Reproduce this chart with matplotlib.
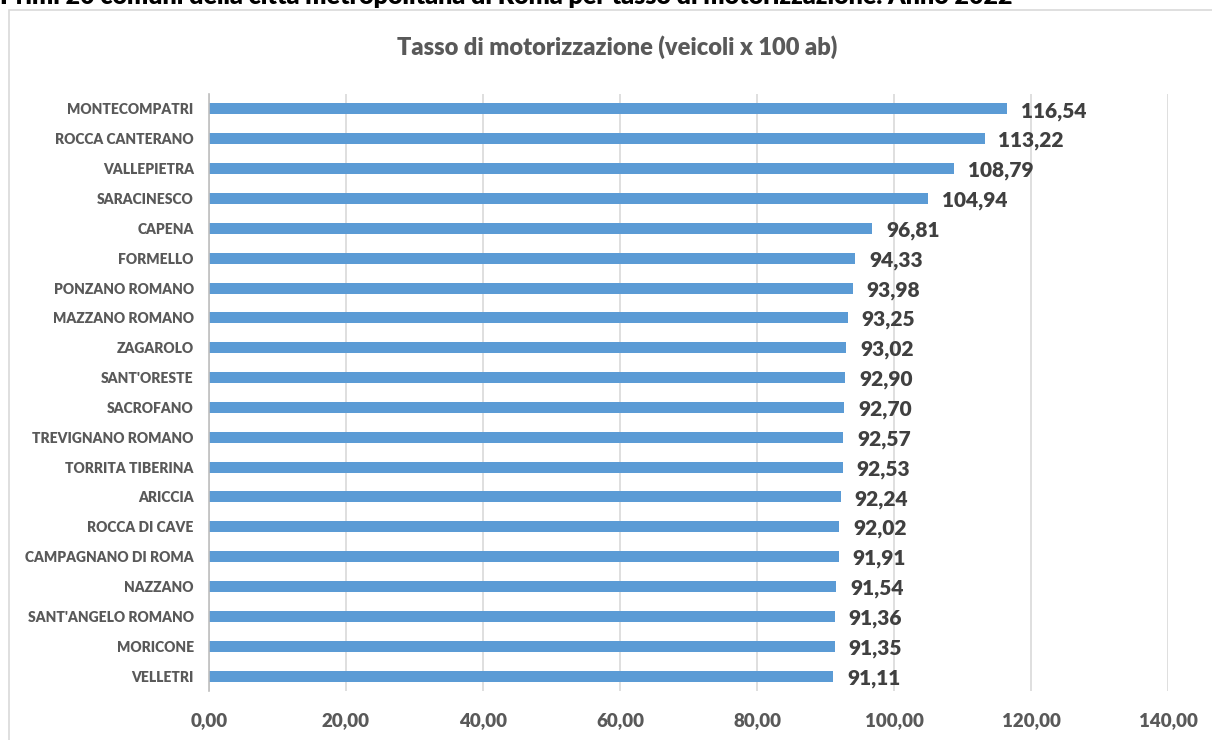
import matplotlib
matplotlib.use("Agg")
import matplotlib.pyplot as plt
from matplotlib.patches import Rectangle

plt.rcParams['font.family'] = ['Lato', 'DejaVu Sans']

comuni = ["MONTECOMPATRI", "ROCCA CANTERANO", "VALLEPIETRA", "SARACINESCO", "CAPENA",
          "FORMELLO", "PONZANO ROMANO", "MAZZANO ROMANO", "ZAGAROLO", "SANT'ORESTE",
          "SACROFANO", "TREVIGNANO ROMANO", "TORRITA TIBERINA", "ARICCIA", "ROCCA DI CAVE",
          "CAMPAGNANO DI ROMA", "NAZZANO", "SANT'ANGELO ROMANO", "MORICONE", "VELLETRI"]
tasso = [116.54, 113.22, 108.79, 104.94, 96.81, 94.33, 93.98, 93.25, 93.02, 92.90,
         92.70, 92.57, 92.53, 92.24, 92.02, 91.91, 91.54, 91.36, 91.35, 91.11]
xticks = [0, 20, 40, 60, 80, 100, 120, 140]

titolo = "Tasso di motorizzazione (veicoli x 100 ab)"
titolo_sup = "Primi 20 comuni della città metropolitana di Roma per tasso di motorizzazione. Anno 2022"

def fmt(v):
    return f"{v:.2f}".replace(".", ",")

W, H = 1212, 740
WT = "heavy"
fig = plt.figure(figsize=(W/100, H/100), dpi=100)
fig.patch.set_facecolor("white")

# chart frame
fig.patches.append(Rectangle((9/W, -0.1), 1.2, 1 - 10/H + 0.1, transform=fig.transFigure,
                             fill=False, edgecolor="#d9d9d9", linewidth=1.2))

# cut-off top title (partially outside the image, as in the reference)
fig.text(0/W, 1 - 4/H, titolo_sup, ha="left", va="baseline", fontsize=18,
         fontweight=WT, color="black")

ax = fig.add_axes([209/W, 1 - 691/H, (1168-209)/W, (691-94)/H])
ypos = list(range(len(comuni)))[::-1]
ax.barh(ypos, tasso, height=0.37, color="#5b9bd5")
ax.set_ylim(-0.5, len(comuni) - 0.5)
ax.set_xlim(0, 140)
ax.set_xticks(xticks)
ax.set_xticklabels([fmt(t) for t in xticks], fontsize=13.5, fontweight=WT, color="#595959")
ax.set_yticks(ypos)
ax.set_yticklabels(comuni, fontsize=10, fontweight=WT, color="#595959")
ax.tick_params(axis="both", length=0)
ax.tick_params(axis="y", pad=11)
ax.tick_params(axis="x", pad=15)
ax.grid(axis="x", color="#d9d9d9", linewidth=1.2)
ax.set_axisbelow(True)
for s in ["top", "right", "bottom"]:
    ax.spines[s].set_visible(False)
ax.spines["left"].set_color("#bfbfbf")
ax.spines["left"].set_linewidth(1.2)

for y, v in zip(ypos, tasso):
    ax.annotate(fmt(v), (v, y), xytext=(10, -1.5), textcoords="offset points",
                ha="left", va="center", fontsize=15, fontweight=WT, color="#404040")

fig.text(617/W, 1 - 47/H, titolo, ha="center", va="center", fontsize=17,
         fontweight=WT, color="#595959")

fig.savefig("out.png", dpi=100)
